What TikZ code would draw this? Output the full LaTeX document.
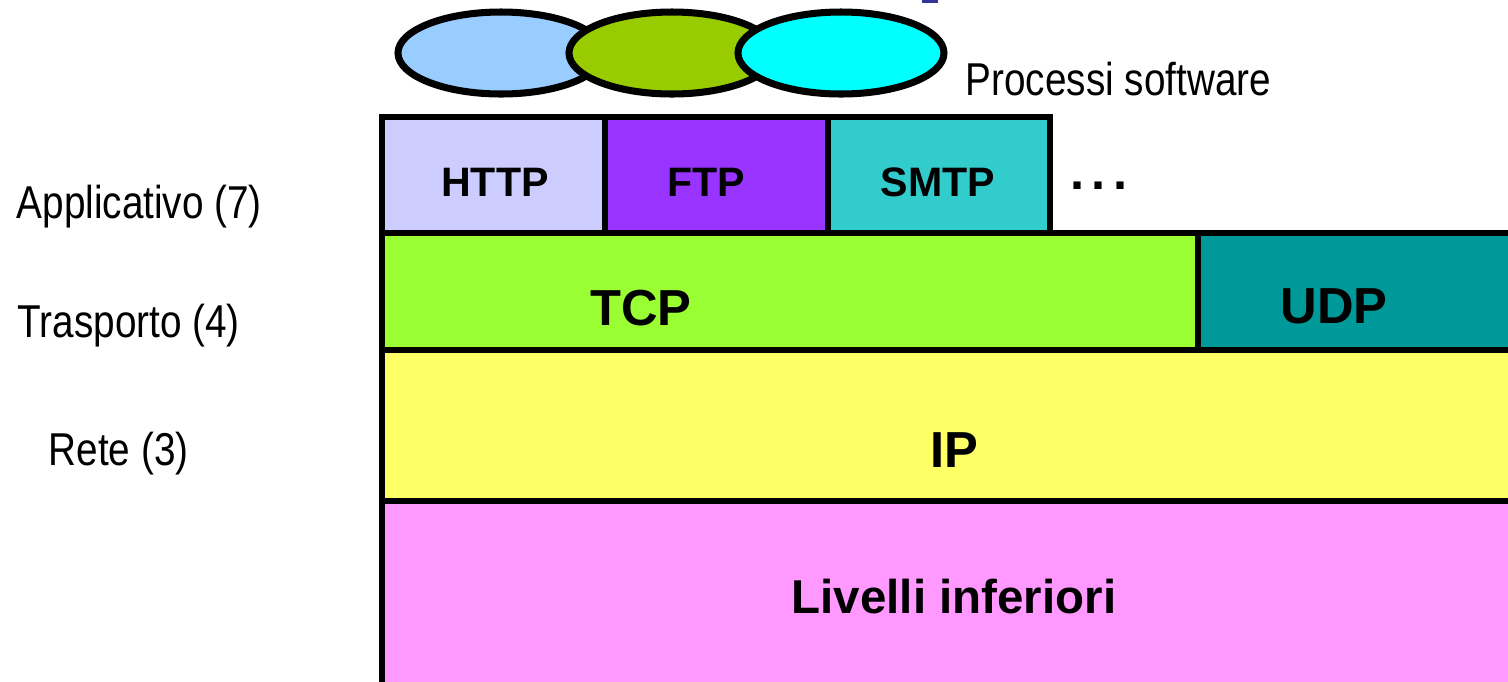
\documentclass[tikz,border=0pt]{standalone}
\usepackage{fontspec}
\setmainfont{Liberation Sans}
\newfontfamily\narrowfont[FakeStretch=0.84]{Liberation Sans}

\definecolor{procA}{HTML}{99CCFF}
\definecolor{procB}{HTML}{99CC00}
\definecolor{procC}{HTML}{00FFFF}
\definecolor{httpcol}{HTML}{CCCCFF}
\definecolor{ftpcol}{HTML}{9933FF}
\definecolor{smtpcol}{HTML}{33CCCC}
\definecolor{tcpcol}{HTML}{99FF33}
\definecolor{udpcol}{HTML}{009999}
\definecolor{ipcol}{HTML}{FFFF66}
\definecolor{lowcol}{HTML}{FF99FF}
\definecolor{markblue}{HTML}{333399}

\tikzset{
  layer/.style = {line width=1.6pt},
  proc/.style = {line width=2pt},
  proto/.style = {font=\fontsize{11.7}{14}\selectfont\bfseries},
  bigproto/.style = {font=\fontsize{14.4}{17}\selectfont\bfseries},
  levelname/.style = {font=\fontsize{13.1}{16}\narrowfont, anchor=base west, inner sep=0pt}
}

\begin{document}
\begin{tikzpicture}[x=0.01cm, y=-0.01cm]

    \useasboundingbox (0,0) rectangle (1508,681);
    \clip (0,0) rectangle (1508,681);

    \fill [markblue] (922,0) rectangle (938,3);

    % processi
    \draw [proc, fill=procA] (501,53) ellipse (103 and 41);
    \draw [proc, fill=procB] (672,53) ellipse (103 and 41);
    \draw [proc, fill=procC] (841,53) ellipse (103 and 41);
    \node [levelname] (proc) at (965,95) {Processi software};

    % livelli
    \draw [layer, fill=httpcol] (382,117) rectangle (605,233);
    \draw [layer, fill=ftpcol] (605,117) rectangle (828,233);
    \draw [layer, fill=smtpcol] (828,117) rectangle (1050,233);
    \draw [layer, fill=tcpcol] (382,233) rectangle (1198,350);
    \draw [layer, fill=udpcol] (1198,233) rectangle (1530,350);
    \draw [layer, fill=ipcol] (382,350) rectangle (1530,501);
    \draw [layer, fill=lowcol] (382,501) rectangle (1530,700);

    \node [proto] (http) at (495,182) {HTTP};
    \node [proto] (ftp) at (706,182) {FTP};
    \node [proto] (smtp) at (938,182) {SMTP};
    \node [bigproto, anchor=base] (more) at (1099,189) {.\hspace{2.2pt}.\hspace{2.2pt}.};
    \node [bigproto] (tcp) at (641,308) {TCP};
    \node [bigproto] (udp) at (1334,306) {UDP};
    \node [bigproto] (ip) at (954,450) {IP};
    \node [bigproto, font=\fontsize{13.5}{16}\selectfont\bfseries] (low) at (954,597) {Livelli inferiori};

    \node [levelname] (app) at (16,218) {Applicativo (7)};
    \node [levelname] (tra) at (17,337) {Trasporto (4)};
    \node [levelname] (net) at (48,465) {Rete (3)};

\end{tikzpicture}
\end{document}
